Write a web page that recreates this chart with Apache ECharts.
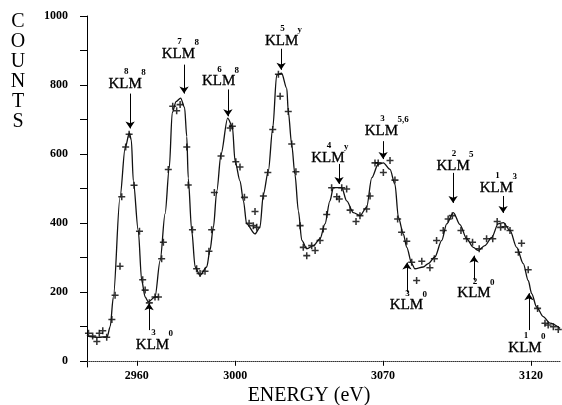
<!DOCTYPE html>
<html>
<head>
<meta charset="utf-8">
<script src="https://cdn.jsdelivr.net/npm/echarts@6/dist/echarts.min.js"></script>
<style>
  html, body { margin: 0; padding: 0; background: #fff; }
  #chart { width: 562px; height: 405px; }
</style>
</head>
<body>
<div id="chart"></div>
<script>
// fitted curve
const fitEnergy = [2939.8, 2941.0, 2944.3, 2948.0, 2949.2, 2950.5, 2953.2, 2955.3, 2957.0, 2957.8, 2958.6, 2960.6, 2962.0, 2963.4, 2964.7, 2967.4, 2969.5, 2971.5, 2973.2, 2974.4, 2976.0, 2977.8, 2979.4, 2980.3, 2980.9, 2982.3, 2983.7, 2985.7, 2988.4, 2989.7, 2991.1, 2992.5, 2994.2, 2996.9, 2998.8, 2999.9, 3001.9, 3003.3, 3004.6, 3008.0, 3010.0, 3011.4, 3013.4, 3015.2, 3016.8, 3018.8, 3020.9, 3021.5, 3022.9, 3024.2, 3025.6, 3027.0, 3029.0, 3031.7, 3034.4, 3036.4, 3038.4, 3039.8, 3043.2, 3045.2, 3047.9, 3050.6, 3053.3, 3055.4, 3058.0, 3060.1, 3062.8, 3064.8, 3066.2, 3068.2, 3069.6, 3071.6, 3072.9, 3076.3, 3078.3, 3081.0, 3083.8, 3085.8, 3088.5, 3091.2, 3093.9, 3096.6, 3098.6, 3101.3, 3104.1, 3106.7, 3108.8, 3111.5, 3114.2, 3116.9, 3118.9, 3120.3, 3122.3, 3125.0, 3127.7, 3131.8];
const fitCounts = [75, 70, 68, 70, 99, 185, 474, 618, 661, 640, 522, 378, 233, 185, 171, 185, 291, 427, 560, 720, 752, 762, 735, 650, 530, 378, 272, 248, 272, 320, 387, 493, 599, 704, 680, 579, 522, 464, 397, 368, 387, 483, 550, 675, 829, 834, 790, 723, 627, 541, 435, 349, 325, 334, 354, 397, 464, 502, 502, 464, 430, 421, 445, 531, 570, 574, 555, 512, 416, 368, 329, 282, 267, 272, 282, 301, 349, 397, 430, 395, 354, 329, 320, 334, 358, 397, 401, 378, 329, 282, 233, 195, 156, 128, 109, 94];

// measured points (+)
const dataEnergy = [2940.4, 2942.1, 2943.8, 2944.8, 2946.2, 2947.8, 2949.9, 2951.2, 2953.2, 2953.9, 2955.5, 2956.9, 2958.9, 2961.1, 2962.4, 2963.4, 2965.1, 2967.4, 2968.8, 2970.1, 2970.8, 2972.8, 2974.6, 2976.2, 2977.6, 2980.3, 2980.9, 2982.6, 2984.3, 2985.7, 2987.7, 2989.3, 2990.4, 2991.5, 2994.2, 2997.9, 2998.8, 3000.2, 3001.9, 3003.7, 3005.6, 3007.3, 3008.0, 3008.7, 3011.4, 3013.2, 3015.2, 3017.5, 3018.2, 3021.5, 3022.9, 3024.6, 3026.3, 3027.6, 3029.0, 3031.0, 3032.4, 3034.4, 3035.7, 3037.1, 3039.1, 3041.2, 3042.2, 3043.2, 3045.2, 3046.6, 3049.0, 3050.6, 3053.3, 3054.7, 3056.7, 3058.0, 3060.1, 3062.8, 3064.8, 3065.9, 3067.5, 3069.6, 3071.6, 3073.6, 3075.7, 3079.0, 3080.8, 3081.7, 3084.4, 3086.4, 3088.1, 3091.6, 3093.9, 3096.3, 3099.0, 3102.0, 3104.5, 3106.3, 3107.7, 3109.5, 3111.5, 3114.9, 3116.2, 3118.9, 3122.7, 3125.7, 3127.0, 3129.1, 3131.1];
const dataCounts = [80, 72, 56, 80, 87, 68, 120, 190, 274, 476, 620, 657, 509, 376, 235, 205, 168, 185, 185, 296, 344, 555, 738, 725, 743, 620, 510, 380, 267, 253, 260, 318, 380, 488, 594, 675, 680, 577, 562, 474, 399, 392, 433, 387, 478, 546, 671, 831, 767, 723, 629, 548, 392, 329, 305, 334, 320, 349, 382, 424, 502, 476, 469, 502, 498, 437, 404, 421, 440, 478, 574, 574, 546, 581, 524, 411, 373, 347, 286, 233, 289, 270, 296, 349, 378, 411, 421, 378, 354, 344, 325, 354, 354, 404, 387, 389, 378, 315, 341, 264, 152, 109, 104, 99, 91];

// axis ticks (the printed label at the third tick reads 3070)
const xTickValues = [2960, 3000, 3060, 3120];
const xTickLabels = ['2960', '3000', '3070', '3120'];
const yTickValues = [0, 100, 200, 300, 400, 500, 600, 700, 800, 900, 1000];
const yLabelValues = [0, 200, 400, 600, 800, 1000];

// KLM line markers
const arrowX = [2957.3, 2979.2, 2997.0, 3018.6, 3042.1, 3060.0, 3088.4, 3108.7, 2965.0, 3069.7, 3096.9, 3119.2];
const arrowFrom = [775, 859, 787, 905, 571, 637, 545, 478, 89, 199, 233, 89];
const arrowTo = [674, 775, 709, 844, 513, 585, 458, 429, 167, 285, 305, 196];
const labelX = [2955.3, 2976.9, 2993.2, 3018.8, 3037.6, 3059.3, 3088.4, 3106.0, 2966.4, 3069.5, 3096.9, 3117.6];
const labelY = [804, 890, 810, 928, 588, 666, 565, 501, 46, 161, 196, 37];
const supLeft = ['8', '7', '6', '5', '4', '3', '2', '1', '3', '3', '2', '1'];
const supRight = ['8', '8', '8', 'y', 'y', '5,6', '5', '3', '0', '0', '0', '0'];

const serif = '"Liberation Serif", "DejaVu Serif", serif';
const crossPath = 'path://M3.9,0H6.1V3.9H10V6.1H6.1V10H3.9V6.1H0V3.9H3.9Z';

const chart = echarts.init(document.getElementById('chart'));

chart.setOption({
  animation: false,
  backgroundColor: '#fff',
  grid: { left: 87, right: 2, top: 16, bottom: 38 },
  xAxis: {
    type: 'value',
    min: 2939.8,
    max: 3131.8,
    axisLine: { onZero: true, lineStyle: { color: '#333', type: 'dotted', width: 1 } },
    axisTick: { customValues: xTickValues, length: 5, lineStyle: { color: '#000' } },
    axisLabel: {
      customValues: xTickValues,
      formatter: v => xTickLabels[xTickValues.indexOf(v)],
      margin: 3,
      color: '#000',
      fontFamily: serif,
      fontSize: 12,
      fontWeight: 'bold'
    },
    splitLine: { show: false }
  },
  yAxis: {
    type: 'value',
    min: -18,
    max: 1000,
    axisLine: { show: true, onZero: false, lineStyle: { color: '#000', width: 1 } },
    axisTick: { customValues: yTickValues, length: 7, lineStyle: { color: '#000' } },
    axisLabel: {
      customValues: yLabelValues,
      formatter: v => String(v),
      margin: 19,
      color: '#000',
      fontFamily: serif,
      fontSize: 12,
      fontWeight: 'bold'
    },
    splitLine: { show: false }
  },
  series: [
    {
      type: 'line',
      data: fitEnergy.map((x, i) => [x, fitCounts[i]]),
      showSymbol: false,
      smooth: 0.3,
      smoothMonotone: 'x',
      lineStyle: { color: '#111', width: 1.3 },
      silent: true,
      markLine: {
        silent: true,
        symbol: ['none', 'arrow'],
        symbolSize: 7,
        lineStyle: { color: '#000', width: 1, type: 'solid' },
        label: { show: false },
        data: arrowX.map((x, i) => [{ coord: [x, arrowFrom[i]] }, { coord: [x, arrowTo[i]] }])
      }
    },
    {
      type: 'scatter',
      data: dataEnergy.map((x, i) => [x, dataCounts[i]]),
      symbol: crossPath,
      symbolSize: 7,
      itemStyle: { color: '#000' },
      silent: true
    }
  ]
});

// labels placed from data coords
const graphics = [
  {
    type: 'text', x: 18, y: 12,
    style: { text: 'C\nO\nU\nN\nT\nS', font: '20px ' + serif, lineHeight: 20, fill: '#000', align: 'center', verticalAlign: 'top' }
  },
  {
    type: 'text', x: 309, y: 396,
    style: { text: 'ENERGY (eV)', font: '20px ' + serif, fill: '#000', align: 'center', verticalAlign: 'middle' }
  }
];
labelX.forEach((lx, i) => {
  const p = chart.convertToPixel({ gridIndex: 0 }, [lx, labelY[i]]);
  graphics.push({
    type: 'text', x: p[0], y: p[1],
    style: { text: 'KLM', font: '15px ' + serif, fill: '#000', stroke: '#000', lineWidth: 0.3, align: 'center', verticalAlign: 'middle' }
  });
  graphics.push({
    type: 'text', x: p[0] + 1, y: p[1] - 12,
    style: { text: supLeft[i], font: 'bold 9px ' + serif, fill: '#000', align: 'center', verticalAlign: 'middle' }
  });
  graphics.push({
    type: 'text', x: p[0] + 16, y: p[1] - 11,
    style: { text: supRight[i], font: 'bold 9px ' + serif, fill: '#000', align: 'left', verticalAlign: 'middle' }
  });
});
chart.setOption({ graphic: graphics });
</script>
</body>
</html>
